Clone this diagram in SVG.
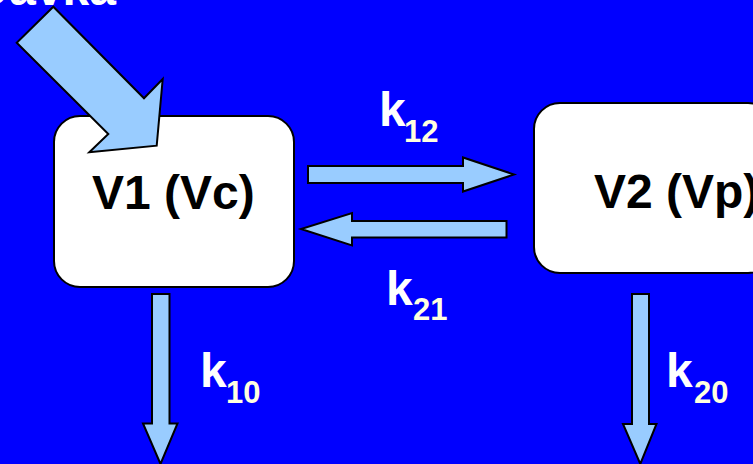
<svg xmlns="http://www.w3.org/2000/svg" width="753" height="464" viewBox="0 0 753 464">
<style>
.box{fill:#ffffff;stroke:#000000;stroke-width:2}
.arr{fill:#99ccff;stroke:#000000;stroke-width:2;stroke-linejoin:miter}
.lbl{font-family:"Liberation Sans",Arial,sans-serif;font-weight:bold;fill:#000000;font-size:48px}
.k{font-family:"Liberation Sans",Arial,sans-serif;font-weight:bold;fill:#ffffff;font-size:48px}
.sub{font-family:"Liberation Sans",Arial,sans-serif;font-weight:bold;fill:#ffffe0;font-size:31px}
</style>
<rect x="0" y="0" width="753" height="464" fill="#0000ff"/>
<text class="k" x="116" y="5" text-anchor="end">Dávka</text>
<g id="v1">
<rect class="box" x="54" y="116" width="240" height="171" rx="26" ry="26"/>
<text class="lbl" x="92" y="209">V1 (Vc)</text>
</g>
<g id="v2">
<rect class="box" x="534" y="103" width="240" height="170" rx="26" ry="26"/>
<text class="lbl" x="594" y="208">V2 (Vp)</text>
</g>
<g id="connectors">
<polygon id="dose" class="arr" points="53.3,6.7 16.7,42.7 108.3,134 89.3,152.3 156.7,145.7 162.7,79 144,98.3"/>
<polygon id="a12" class="arr" points="308,166 463,166 463,157.5 514,174.5 463,191.5 463,183 308,183"/>
<polygon id="a21" class="arr" points="506.5,221 352,221 352,213 301,229 352,245.5 352,237.5 506.5,237.5"/>
<polygon id="a10" class="arr" points="152,294 169.5,294 169.5,423.5 177.5,423.5 160.5,464 143,423.5 152,423.5"/>
<polygon id="a20" class="arr" points="632,294 649,294 649,424 656.5,424 640.3,464 623,424 632,424"/>
</g>
<g id="labels">
<text class="k" x="379" y="125.7">k</text><text class="sub" x="404" y="141.7">12</text>
<text class="k" x="386" y="305">k</text><text class="sub" x="413" y="320">21</text>
<text class="k" x="200" y="387">k</text><text class="sub" x="226" y="402.7">10</text>
<text class="k" x="666" y="387">k</text><text class="sub" x="694" y="402.7">20</text>
</g>
</svg>
